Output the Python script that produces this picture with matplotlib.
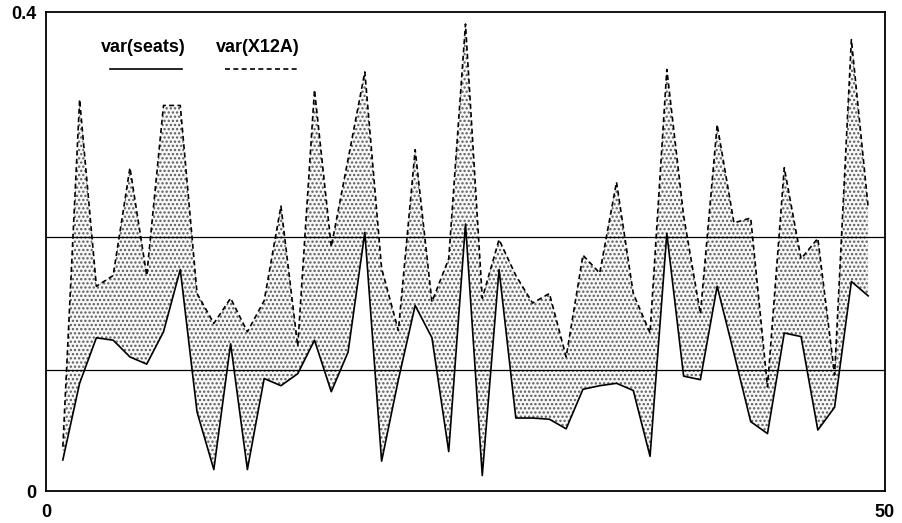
import numpy as np
import matplotlib
matplotlib.use("Agg")
import matplotlib.pyplot as plt

# ─────────────────────────────────────────────
# 数据
# ─────────────────────────────────────────────
t = list(range(1, 50))

var_seats = [
    0.026, 0.090, 0.128, 0.126, 0.112, 0.106, 0.133, 0.185, 0.066, 0.018,
    0.123, 0.018, 0.094, 0.088, 0.098, 0.126, 0.083, 0.116, 0.216, 0.025,
    0.093, 0.155, 0.128, 0.033, 0.223, 0.013, 0.185, 0.061, 0.061, 0.060,
    0.052, 0.085, 0.088, 0.090, 0.084, 0.029, 0.215, 0.096, 0.093, 0.171,
    0.115, 0.058, 0.048, 0.132, 0.129, 0.051, 0.070, 0.175, 0.163,
]

var_x12a = [
    0.037, 0.327, 0.171, 0.180, 0.270, 0.180, 0.322, 0.322, 0.165, 0.140,
    0.161, 0.133, 0.159, 0.238, 0.121, 0.335, 0.204, 0.277, 0.350, 0.186,
    0.134, 0.285, 0.158, 0.194, 0.390, 0.161, 0.210, 0.180, 0.157, 0.165,
    0.112, 0.197, 0.182, 0.258, 0.165, 0.132, 0.352, 0.230, 0.148, 0.306,
    0.224, 0.228, 0.087, 0.270, 0.194, 0.211, 0.097, 0.377, 0.237,
]

ref_levels = [0.212, 0.101]

x_ticks = [0, 50]
y_ticks = [0, 0.4]
y_tick_labels = ["0", "0.4"]

# ─────────────────────────────────────────────
# 绘图
# ─────────────────────────────────────────────
plt.rcParams["font.family"] = ["Liberation Sans", "DejaVu Sans"]
plt.rcParams["hatch.linewidth"] = 1.1
plt.rcParams["hatch.color"] = "#555555"

fig = plt.figure(figsize=(9.03, 5.23), dpi=100)
ax = fig.add_axes([0.051, 0.061, 0.929, 0.916])

ax.fill_between(t, var_seats, var_x12a, facecolor="#f7f7f7",
                edgecolor="#5a5a5a", hatch="....", linewidth=0)
ax.plot(t, var_seats, color="black", linewidth=1.2, label="var(seats)")
ax.plot(t, var_x12a, color="black", linewidth=1.2, linestyle=(0, (3, 2)),
        label="var(X12A)")
for lvl in ref_levels:
    ax.axhline(lvl, color="black", linewidth=0.9)

ax.set_xlim(0, 50)
ax.set_ylim(0, 0.4)
ax.set_xticks(x_ticks)
ax.set_xticklabels([str(v) for v in x_ticks], fontsize=13, fontweight="bold")
ax.set_yticks(y_ticks)
ax.set_yticklabels(y_tick_labels, fontsize=13, fontweight="bold")
ax.tick_params(axis="x", length=0, pad=9)
ax.tick_params(axis="y", length=0, pad=7)
for s in ax.spines.values():
    s.set_linewidth(1.3)

# 图例（手工摆放，文字在上，线在下）
leg_items = [("var(seats)", "-", 0.1156, 0.0763, 0.162),
             ("var(X12A)", (0, (3, 2)), 0.2527, 0.2133, 0.299)]
for label, ls, xc, x0, x1 in leg_items:
    ax.text(xc, 0.927, label, transform=ax.transAxes, fontsize=13,
            fontweight="bold", ha="center", va="center")
    ax.plot([x0, x1], [0.881, 0.881], transform=ax.transAxes,
            color="black", linewidth=1.2, linestyle=ls)

fig.savefig("out.png", dpi=100)
